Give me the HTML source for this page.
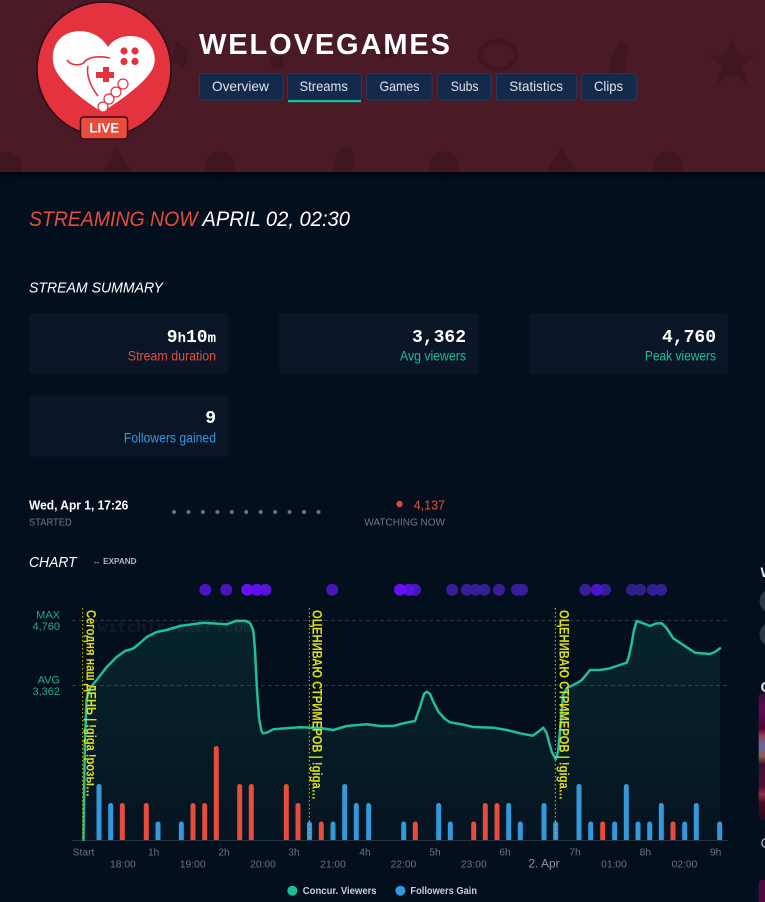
<!DOCTYPE html>
<html><head><meta charset="utf-8"><style>
html,body{margin:0;padding:0;background:#040f1d;width:765px;height:902px;overflow:hidden}
svg{display:block}
</style></head><body>
<svg width="765" height="902" viewBox="0 0 765 902" xmlns="http://www.w3.org/2000/svg" font-family="Liberation Sans, DejaVu Sans, sans-serif">
<defs>
<linearGradient id="shadow" x1="0" y1="0" x2="0" y2="1"><stop offset="0" stop-color="#01060d"/><stop offset="1" stop-color="#040f1d"/></linearGradient>
<linearGradient id="area" x1="0" y1="0" x2="0" y2="1"><stop offset="0" stop-color="#1abc9c" stop-opacity="0.12"/><stop offset="1" stop-color="#1abc9c" stop-opacity="0.03"/></linearGradient>
<linearGradient id="thumb" x1="0" y1="0" x2="0" y2="1">
<stop offset="0" stop-color="#3c0a3a"/><stop offset="0.12" stop-color="#5a0c55"/><stop offset="0.28" stop-color="#4a0830"/><stop offset="0.34" stop-color="#a04050"/><stop offset="0.42" stop-color="#6868b0"/><stop offset="0.5" stop-color="#8a6040"/><stop offset="0.56" stop-color="#3a1030"/><stop offset="0.74" stop-color="#501030"/><stop offset="0.8" stop-color="#903050"/><stop offset="0.86" stop-color="#401020"/><stop offset="1" stop-color="#2a0818"/>
</linearGradient>
</defs>

<rect width="765" height="902" fill="#040f1d"/>
<!-- header -->
<rect width="765" height="172" fill="#4a1b27"/>
<g fill="#000" fill-opacity="0.13">
<ellipse cx="498" cy="55" rx="18" ry="14" fill="none" stroke="#000" stroke-opacity="0.13" stroke-width="5"/>
<path d="M732,38 L738,55 L756,56 L742,66 L747,84 L732,74 L717,84 L722,66 L708,56 L726,55 Z"/>
<path d="M606,90 L612,55 L620,40 L630,48 L624,62 L634,88 Z"/>
<path d="M176,40 L190,52 L184,68 L172,62 Z"/>
<path d="M270,58 L282,54 L284,66 L272,68 Z"/>
<path d="M378,45 L392,44 L394,58 L380,60 Z"/>
<circle cx="6" cy="168" r="16"/>
<path d="M117,148 L132,172 L102,172 Z"/>
<circle cx="220" cy="166" r="15"/>
<path d="M332,172 L338,150 L350,146 L356,160 L352,172 Z"/>
<circle cx="444" cy="166" r="15"/>
<path d="M561,148 L576,172 L546,172 Z"/>
<circle cx="668" cy="166" r="15"/>
</g>
<rect y="172" width="765" height="8" fill="url(#shadow)"/>

<!-- avatar -->
<circle cx="104" cy="69" r="67" fill="#e4323f" stroke="#2b0b12" stroke-width="1.5"/>
<path d="M108,47 C100,34 86,29 72,32 C56,36 50,52 54,66 C58,80 80,98 102,112 C124,98 146,82 153,68 C158,56 152,40 138,37 C126,34 114,38 108,47 Z" fill="#fff"/>
<g fill="#e4323f">
<circle cx="124" cy="51" r="3.6"/><circle cx="135" cy="51" r="3.6"/>
<circle cx="124" cy="61.5" r="3.6"/><circle cx="135" cy="61.5" r="3.6"/>
<path d="M96,72 L103,72 L103,67 L109,67 L109,72 L114,72 L114,78 L109,78 L109,82 L103,82 L103,78 L96,78 Z"/>
</g>
<path d="M67,60 C71,66 80,66 85,62" fill="none" stroke="#e4323f" stroke-width="1.6"/>
<path d="M84,62 C90,56 100,56 110,58 M88,66 C86,74 90,86 98,96" fill="none" stroke="#e4323f" stroke-width="1.6"/>
<g fill="#fff" stroke="#e4323f" stroke-width="1.2">
<circle cx="103" cy="107" r="5"/><circle cx="109" cy="99" r="5"/><circle cx="116" cy="92" r="5"/><circle cx="123" cy="84" r="5"/>
</g>
<rect x="80.5" y="117" width="47" height="22" rx="3" fill="#e74c3c" stroke="#3a0d14" stroke-width="1.5"/>
<text x="89.3" y="132.5" font-size="13.5" font-weight="bold" fill="#fff" textLength="30" lengthAdjust="spacingAndGlyphs">LIVE</text>

<!-- title -->
<text x="199" y="54" font-size="29" font-weight="bold" fill="#fff" textLength="251" lengthAdjust="spacing">WELOVEGAMES</text>

<!-- nav -->
<g stroke="#1e3a60" stroke-width="1" fill="#132a4b">
<rect x="199.5" y="73.5" width="83.5" height="26.5" rx="3"/>
<rect x="287.5" y="73.5" width="74" height="26.5" rx="3"/>
<rect x="366.5" y="73.5" width="65.5" height="26.5" rx="3"/>
<rect x="437.5" y="73.5" width="53.5" height="26.5" rx="3"/>
<rect x="496.5" y="73.5" width="80" height="26.5" rx="3"/>
<rect x="581.5" y="73.5" width="55" height="26.5" rx="3"/>
</g>
<rect x="288" y="100" width="73" height="2.2" fill="#1abc9c"/>
<g font-size="14" fill="#dde4ec">
<text x="212" y="91" textLength="56.8" lengthAdjust="spacingAndGlyphs">Overview</text>
<text x="299.5" y="91" textLength="48.3" lengthAdjust="spacingAndGlyphs">Streams</text>
<text x="379.5" y="91" textLength="40" lengthAdjust="spacingAndGlyphs">Games</text>
<text x="450.7" y="91" textLength="27.8" lengthAdjust="spacingAndGlyphs">Subs</text>
<text x="509.3" y="91" textLength="53.7" lengthAdjust="spacingAndGlyphs">Statistics</text>
<text x="594" y="91" textLength="29" lengthAdjust="spacingAndGlyphs">Clips</text>
</g>

<!-- streaming now -->
<text x="29" y="226" font-size="21.5" font-style="italic" fill="#e74c3c" textLength="168.6" lengthAdjust="spacingAndGlyphs">STREAMING NOW</text>
<text x="202.4" y="226" font-size="21.5" font-style="italic" fill="#fff" textLength="147.6" lengthAdjust="spacingAndGlyphs">APRIL 02, 02:30</text>

<text x="29" y="292.3" font-size="15" font-style="italic" fill="#fff" textLength="134" lengthAdjust="spacingAndGlyphs">STREAM SUMMARY</text>

<!-- cards -->
<g fill="#0a1627">
<rect x="29" y="313" width="199.3" height="61.3" rx="4"/>
<rect x="279" y="313" width="199.5" height="61.3" rx="4"/>
<rect x="529" y="313" width="199.3" height="61.3" rx="4"/>
<rect x="29" y="395.3" width="199.3" height="61.4" rx="4"/>
</g>
<g font-family="Liberation Mono, DejaVu Sans Mono, monospace" font-weight="bold" fill="#fff" text-anchor="end">
<text x="216" y="342"><tspan font-size="18">9</tspan><tspan font-size="14">h</tspan><tspan font-size="18">10</tspan><tspan font-size="14">m</tspan></text>
<text x="466" y="342" font-size="18">3,362</text>
<text x="716" y="342" font-size="18">4,760</text>
<text x="216" y="423" font-size="18">9</text>
</g>
<text x="127.8" y="360.5" font-size="13.5" fill="#e74c3c" textLength="88.2" lengthAdjust="spacingAndGlyphs">Stream duration</text>
<text x="400" y="360.5" font-size="13.5" fill="#1abc9c" textLength="66" lengthAdjust="spacingAndGlyphs">Avg viewers</text>
<text x="644.9" y="360.5" font-size="13.5" fill="#1abc9c" textLength="71.1" lengthAdjust="spacingAndGlyphs">Peak viewers</text>
<text x="123.9" y="442.5" font-size="13.5" fill="#3498db" textLength="92.1" lengthAdjust="spacingAndGlyphs">Followers gained</text>

<!-- timeline -->
<text x="29" y="509.3" font-size="13" font-weight="bold" fill="#fff" textLength="99.3" lengthAdjust="spacingAndGlyphs">Wed, Apr 1, 17:26</text>
<text x="29" y="525.5" font-size="10" fill="#6f7882" textLength="42.7" lengthAdjust="spacingAndGlyphs">STARTED</text>
<g fill="#6b737d">
<circle cx="174" cy="512" r="2"/><circle cx="188.45" cy="512" r="2"/><circle cx="202.9" cy="512" r="2"/><circle cx="217.35" cy="512" r="2"/><circle cx="231.8" cy="512" r="2"/><circle cx="246.25" cy="512" r="2"/><circle cx="260.7" cy="512" r="2"/><circle cx="275.15" cy="512" r="2"/><circle cx="289.6" cy="512" r="2"/><circle cx="304.05" cy="512" r="2"/><circle cx="318.5" cy="512" r="2"/>
</g>
<circle cx="399.5" cy="504" r="3.2" fill="#e8413a"/>
<text x="413.7" y="509.5" font-size="13" fill="#e74c3c" textLength="31.3" lengthAdjust="spacingAndGlyphs">4,137</text>
<text x="364.4" y="525.5" font-size="10" fill="#6f7882" textLength="80.6" lengthAdjust="spacingAndGlyphs">WATCHING NOW</text>

<!-- chart title -->
<text x="29" y="567" font-size="14.5" font-style="italic" fill="#fff" textLength="47.6" lengthAdjust="spacingAndGlyphs">CHART</text>
<text x="92.7" y="564" font-size="8" font-weight="bold" fill="#b0b8c0" textLength="43.9" lengthAdjust="spacingAndGlyphs">↔ EXPAND</text>

<!-- purple dots -->
<g fill-opacity="0.95">
<circle cx="205.4" cy="589.7" r="6" fill="#4d17cc"/>
<circle cx="226.3" cy="589.7" r="6" fill="#4a18c4"/>
<circle cx="247.3" cy="589.7" r="6" fill="#6a12ff"/>
<circle cx="257" cy="589.7" r="6" fill="#6510f5"/>
<circle cx="265.4" cy="589.7" r="6" fill="#5a14e6"/>
<circle cx="332.2" cy="589.7" r="6" fill="#4a18c4"/>
<circle cx="415" cy="589.7" r="6" fill="#4a18c4"/>
<circle cx="408.8" cy="589.7" r="6" fill="#5a14e6"/>
<circle cx="400" cy="589.7" r="6" fill="#6a12ff"/>
<circle cx="452.2" cy="589.7" r="6" fill="#3c1fa0"/>
<circle cx="466.8" cy="589.7" r="6" fill="#3a1f9c"/>
<circle cx="475.6" cy="589.7" r="6" fill="#36209a"/>
<circle cx="484.4" cy="589.7" r="6" fill="#36209a"/>
<circle cx="499" cy="589.7" r="6" fill="#3c1fa0"/>
<circle cx="517" cy="589.7" r="6" fill="#3a1f9c"/>
<circle cx="522" cy="589.7" r="6" fill="#3a1f9c"/>
<circle cx="585.4" cy="589.7" r="6" fill="#3c1fa0"/>
<circle cx="605" cy="589.7" r="6" fill="#3a1f9c"/>
<circle cx="597" cy="589.7" r="6" fill="#5015d8"/>
<circle cx="632" cy="589.7" r="6" fill="#33208f"/>
<circle cx="640" cy="589.7" r="6" fill="#33208f"/>
<circle cx="652.7" cy="589.7" r="6" fill="#36209a"/>
<circle cx="661" cy="589.7" r="6" fill="#36209a"/>
</g>

<!-- y labels -->
<g font-size="11" fill="#1fae8f" text-anchor="end">
<text x="60" y="618.5">MAX</text>
<text x="60" y="630">4,760</text>
<text x="60" y="683.5">AVG</text>
<text x="60" y="695">3,362</text>
</g>
<g stroke="#2c3844" stroke-width="1" stroke-dasharray="4 3">
<line x1="72" y1="620.5" x2="728" y2="620.5"/>
<line x1="72" y1="685.5" x2="728" y2="685.5"/>
</g>

<!-- area + line -->
<path d="M83.5,840 L84,800 L85,740 L86.5,700 L90,688 L96.7,680 L106.7,667 L116.7,657 L125,651 L133.3,648.5 L140,643 L146.7,637 L156.7,632 L166.7,630 L180,626 L203.3,622.7 L226.7,624.3 L236.7,620.7 L246,621 L250,623 L253.3,630 L255,650 L257,690 L259,718 L261.5,731 L263,733.3 L266.7,732.7 L273.3,729.3 L300,727.3 L320,728 L333.3,730 L346.7,726 L366.7,724.3 L380,726 L393.3,726 L403.3,723.3 L415,721 L420,707 L424,694 L426.7,691.7 L430,694 L433,701 L438.3,711.7 L445,719 L450,722.3 L461.7,724.3 L473.3,727 L493.3,727.7 L506.7,730 L520,733.3 L532.7,735.7 L538.3,731.7 L543.3,727.7 L546.7,733 L549,742 L551.7,751.7 L555.7,759.3 L558,752 L561,720 L563,695 L566.7,688.3 L576.7,683.3 L581.7,680 L586,675 L590,670 L600,670 L610,668.3 L616.7,666 L626.7,662.7 L629,656 L631.7,643.3 L634,630 L636.7,621 L643.3,623.3 L650,626 L656,623.5 L661.7,623.3 L666.7,628.3 L673.3,638.3 L683.3,645 L695,652.7 L710,654 L715,652 L720,648.3 L720,840 Z" fill="url(#area)"/>

<text x="88" y="632" font-family="Liberation Mono, monospace" font-weight="bold" font-size="16" fill="#fff" fill-opacity="0.05" textLength="165" lengthAdjust="spacingAndGlyphs">TwitchTracker.Com</text>

<line x1="72" y1="840.5" x2="728" y2="840.5" stroke="#27313c" stroke-width="1"/>

<!-- bars -->
<path fill="#3498db" d="M96.5,840V786.5a2.5,2.5 0 0 1 5,0V840Z M108.2,840V805.5a2.5,2.5 0 0 1 5,0V840Z M155.5,840V824a2.5,2.5 0 0 1 5,0V840Z M178.8,840V824a2.5,2.5 0 0 1 5,0V840Z M307,840V824a2.5,2.5 0 0 1 5,0V840Z M330.5,840V824a2.5,2.5 0 0 1 5,0V840Z M342.2,840V786.5a2.5,2.5 0 0 1 5,0V840Z M353.8,840V805.5a2.5,2.5 0 0 1 5,0V840Z M366.2,840V805.5a2.5,2.5 0 0 1 5,0V840Z M401.2,840V824a2.5,2.5 0 0 1 5,0V840Z M436.2,840V805.5a2.5,2.5 0 0 1 5,0V840Z M447.8,840V824a2.5,2.5 0 0 1 5,0V840Z M506.2,840V805.5a2.5,2.5 0 0 1 5,0V840Z M517.8,840V824a2.5,2.5 0 0 1 5,0V840Z M541.5,840V805.5a2.5,2.5 0 0 1 5,0V840Z M553.2,840V824a2.5,2.5 0 0 1 5,0V840Z M576.5,840V786.5a2.5,2.5 0 0 1 5,0V840Z M588.2,840V824a2.5,2.5 0 0 1 5,0V840Z M612.2,840V824a2.5,2.5 0 0 1 5,0V840Z M623.8,840V786.5a2.5,2.5 0 0 1 5,0V840Z M635.5,840V824a2.5,2.5 0 0 1 5,0V840Z M647.2,840V824a2.5,2.5 0 0 1 5,0V840Z M658.8,840V805.5a2.5,2.5 0 0 1 5,0V840Z M682.2,840V824a2.5,2.5 0 0 1 5,0V840Z M693.8,840V805.5a2.5,2.5 0 0 1 5,0V840Z M717.2,840V824a2.5,2.5 0 0 1 5,0V840Z"/>
<path fill="#e74c3c" d="M119.8,840V805.5a2.5,2.5 0 0 1 5,0V840Z M143.8,840V805.5a2.5,2.5 0 0 1 5,0V840Z M190.5,840V805.5a2.5,2.5 0 0 1 5,0V840Z M202.2,840V805.5a2.5,2.5 0 0 1 5,0V840Z M213.8,840V748.5a2.5,2.5 0 0 1 5,0V840Z M237.2,840V786.5a2.5,2.5 0 0 1 5,0V840Z M248.8,840V786.5a2.5,2.5 0 0 1 5,0V840Z M283.8,840V786.5a2.5,2.5 0 0 1 5,0V840Z M295.5,840V805.5a2.5,2.5 0 0 1 5,0V840Z M318.8,840V824a2.5,2.5 0 0 1 5,0V840Z M412.8,840V824a2.5,2.5 0 0 1 5,0V840Z M471.2,840V824a2.5,2.5 0 0 1 5,0V840Z M482.8,840V805.5a2.5,2.5 0 0 1 5,0V840Z M494.5,840V805.5a2.5,2.5 0 0 1 5,0V840Z M600.2,840V824a2.5,2.5 0 0 1 5,0V840Z M670.5,840V824a2.5,2.5 0 0 1 5,0V840Z"/>

<!-- viewer line -->
<path d="M83.5,840 L84,800 L85,740 L86.5,700 L90,688 L96.7,680 L106.7,667 L116.7,657 L125,651 L133.3,648.5 L140,643 L146.7,637 L156.7,632 L166.7,630 L180,626 L203.3,622.7 L226.7,624.3 L236.7,620.7 L246,621 L250,623 L253.3,630 L255,650 L257,690 L259,718 L261.5,731 L263,733.3 L266.7,732.7 L273.3,729.3 L300,727.3 L320,728 L333.3,730 L346.7,726 L366.7,724.3 L380,726 L393.3,726 L403.3,723.3 L415,721 L420,707 L424,694 L426.7,691.7 L430,694 L433,701 L438.3,711.7 L445,719 L450,722.3 L461.7,724.3 L473.3,727 L493.3,727.7 L506.7,730 L520,733.3 L532.7,735.7 L538.3,731.7 L543.3,727.7 L546.7,733 L549,742 L551.7,751.7 L555.7,759.3 L558,752 L561,720 L563,695 L566.7,688.3 L576.7,683.3 L581.7,680 L586,675 L590,670 L600,670 L610,668.3 L616.7,666 L626.7,662.7 L629,656 L631.7,643.3 L634,630 L636.7,621 L643.3,623.3 L650,626 L656,623.5 L661.7,623.3 L666.7,628.3 L673.3,638.3 L683.3,645 L695,652.7 L710,654 L715,652 L720,648.3" fill="none" stroke="#1fbf9d" stroke-width="2.5" stroke-linejoin="round" stroke-linecap="round"/>

<!-- event markers -->
<g stroke="#c8c800" stroke-width="1" stroke-dasharray="1.5 2.5">
<line x1="82.7" y1="608" x2="82.7" y2="840"/>
<line x1="309.3" y1="608" x2="309.3" y2="840"/>
<line x1="555.3" y1="608" x2="555.3" y2="840"/>
</g>
<g font-size="13.5" font-weight="bold" fill="#dede12">
<text transform="translate(86.5,610) rotate(90)" textLength="187" lengthAdjust="spacingAndGlyphs">Сегодня наш ДЕНЬ | !giga !розы…</text>
<text transform="translate(312.5,610) rotate(90)" textLength="190" lengthAdjust="spacingAndGlyphs">ОЦЕНИВАЮ СТРИМЕРОВ | !giga…</text>
<text transform="translate(559.3,610) rotate(90)" textLength="190" lengthAdjust="spacingAndGlyphs">ОЦЕНИВАЮ СТРИМЕРОВ | !giga…</text>
</g>

<!-- x labels -->
<g font-size="10.3" fill="#6a737d" text-anchor="middle">
<text x="83.5" y="855.7">Start</text>
<text x="153.7" y="855.7">1h</text>
<text x="224" y="855.7">2h</text>
<text x="294" y="855.7">3h</text>
<text x="365" y="855.7">4h</text>
<text x="435" y="855.7">5h</text>
<text x="505" y="855.7">6h</text>
<text x="575" y="855.7">7h</text>
<text x="645.4" y="855.7">8h</text>
<text x="715.7" y="855.7">9h</text>
<text x="122.9" y="867.3">18:00</text>
<text x="192.7" y="867.3">19:00</text>
<text x="263" y="867.3">20:00</text>
<text x="333" y="867.3">21:00</text>
<text x="403.5" y="867.3">22:00</text>
<text x="473.7" y="867.3">23:00</text>
<text x="544" y="867.7" font-size="12" fill="#8d959e">2. Apr</text>
<text x="614" y="867.3">01:00</text>
<text x="684.5" y="867.3">02:00</text>
</g>

<!-- legend -->
<circle cx="292.4" cy="890.7" r="5" fill="#1abc9c"/>
<text x="302.8" y="894" font-size="10.5" font-weight="bold" fill="#c9cfd6" textLength="73.8" lengthAdjust="spacingAndGlyphs">Concur. Viewers</text>
<circle cx="400.4" cy="890.7" r="5" fill="#3498db"/>
<text x="410.4" y="894" font-size="10.5" font-weight="bold" fill="#c9cfd6" textLength="66.6" lengthAdjust="spacingAndGlyphs">Followers Gain</text>

<!-- right edge partials -->
<text x="760.5" y="577" font-size="14" font-weight="bold" fill="#e8e8e8">W</text>
<circle cx="771.5" cy="601" r="12" fill="#2b3646"/>
<circle cx="771.5" cy="634.5" r="12" fill="#2b3646"/>
<text x="760.5" y="692" font-size="15" font-weight="bold" fill="#e0e0e0">C</text>
<rect x="758.7" y="693" width="12" height="127" rx="4" fill="url(#thumb)"/>
<text x="760.5" y="848" font-size="15" fill="#a8aeb4">C</text>
<rect x="758.7" y="880" width="12" height="30" rx="4" fill="#4a0a40"/>
</svg>
</body></html>
